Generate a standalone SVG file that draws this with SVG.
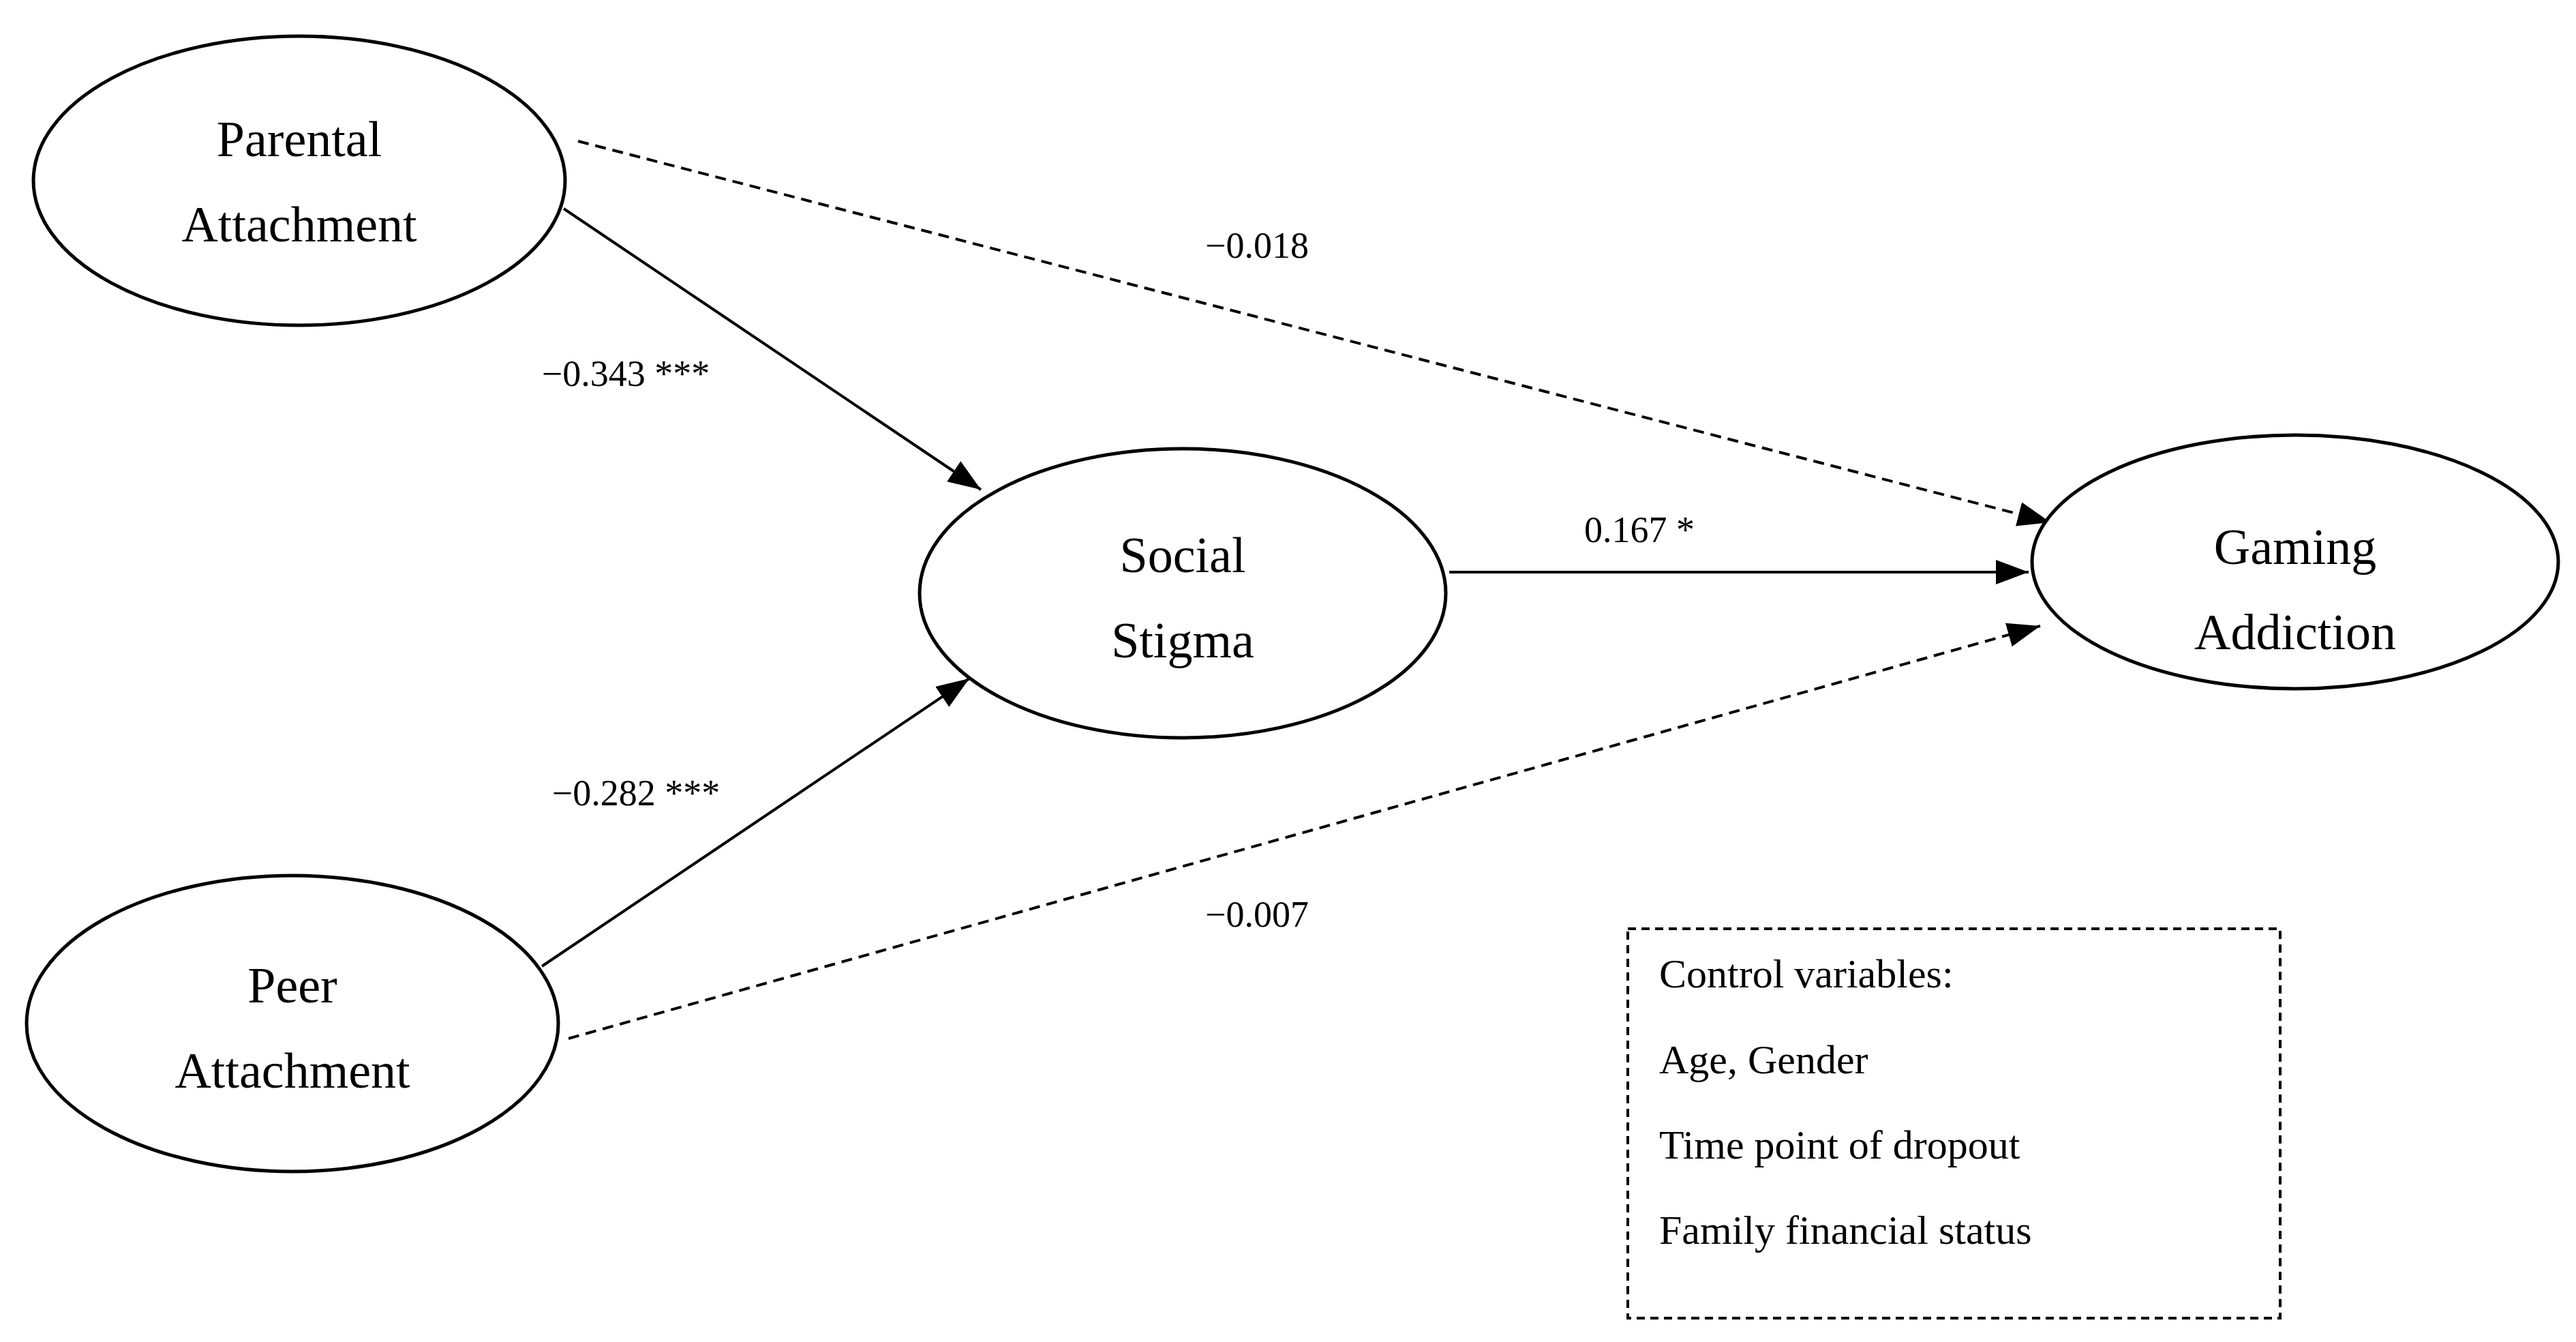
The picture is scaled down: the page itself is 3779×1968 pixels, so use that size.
<svg xmlns="http://www.w3.org/2000/svg" width="3779" height="1968" viewBox="0 0 3779 1968">
<style>
.n{fill:#fff;stroke:#000;stroke-width:5}
.t{font-family:"Liberation Serif",serif;font-size:74px;text-anchor:middle;fill:#000}
.l{font-family:"Liberation Serif",serif;font-size:54px;text-anchor:middle;fill:#000}
.c{font-family:"Liberation Serif",serif;font-size:60px;fill:#000}
.e{stroke:#000;stroke-width:4;fill:none}
.d{stroke-dasharray:16 10}
</style>
<defs>
<marker id="a" markerUnits="userSpaceOnUse" markerWidth="50" markerHeight="40" refX="48" refY="18" orient="auto">
<path d="M0,0 L48,18 L0,36 Z" fill="#000"/>
</marker>
</defs>
<rect width="3779" height="1968" fill="#fff"/>
<g id="edges">
<line class="e" x1="827" y1="306" x2="1439" y2="718" marker-end="url(#a)"/>
<line class="e" x1="795" y1="1417" x2="1422" y2="995" marker-end="url(#a)"/>
<line class="e" x1="2126" y1="839" x2="2976" y2="839" marker-end="url(#a)"/>
<line class="e d" x1="848" y1="207" x2="3008" y2="766" marker-end="url(#a)"/>
<line class="e d" x1="834" y1="1523" x2="2993" y2="918" marker-end="url(#a)"/>
<text class="l" x="1844" y="378">−0.018</text>
<text class="l" x="918" y="566">−0.343 ***</text>
<text class="l" x="2405" y="795">0.167 *</text>
<text class="l" x="933" y="1181">−0.282 ***</text>
<text class="l" x="1844" y="1359">−0.007</text>
</g>
<g id="parental"><ellipse class="n" cx="439" cy="265" rx="390" ry="212"/><text class="t" x="439" y="229">Parental</text><text class="t" x="439" y="354">Attachment</text></g>
<g id="peer"><ellipse class="n" cx="429" cy="1501" rx="390" ry="217"/><text class="t" x="429" y="1470">Peer</text><text class="t" x="429" y="1595">Attachment</text></g>
<g id="social"><ellipse class="n" cx="1735" cy="870" rx="386" ry="212"/><text class="t" x="1735" y="839">Social</text><text class="t" x="1735" y="964">Stigma</text></g>
<g id="gaming"><ellipse class="n" cx="3367" cy="824" rx="386" ry="186"/><text class="t" x="3367" y="827">Gaming</text><text class="t" x="3367" y="952">Addiction</text></g>
<g id="controls">
<rect x="2388" y="1362" width="957" height="571" fill="none" stroke="#000" stroke-width="4" stroke-dasharray="12 8"/>
<text class="c" x="2434" y="1448">Control variables:</text>
<text class="c" x="2434" y="1574">Age, Gender</text>
<text class="c" x="2434" y="1699">Time point of dropout</text>
<text class="c" x="2434" y="1824">Family financial status</text>
</g>
</svg>
